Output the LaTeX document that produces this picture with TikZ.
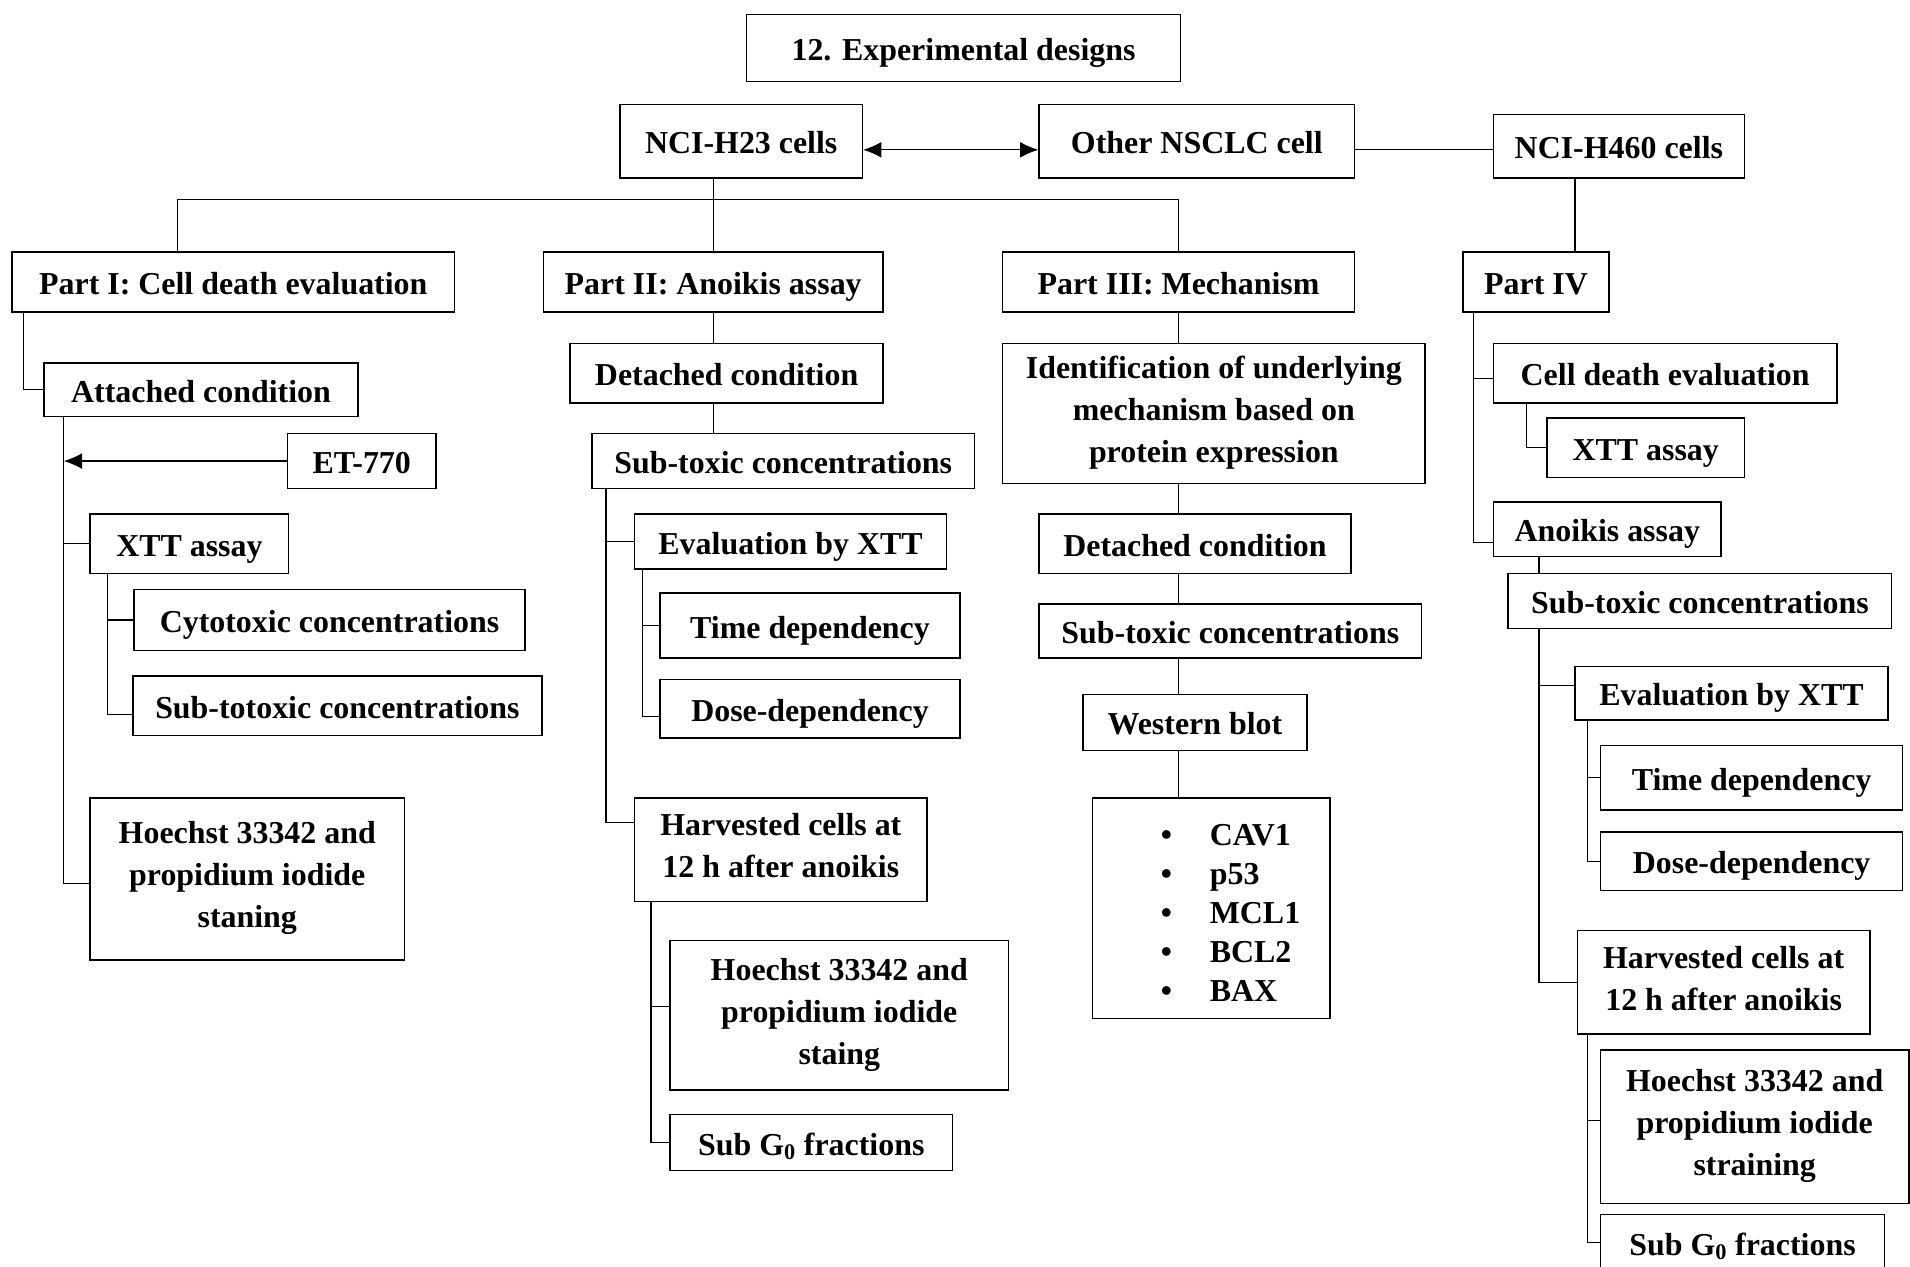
\documentclass[tikz,border=0pt]{standalone}
\usepackage{fontspec}
\setmainfont{Liberation Serif}
\usetikzlibrary{arrows.meta}

\newcommand{\boxstrut}{\rule[-0.2\baselineskip]{0pt}{\baselineskip}}
\tikzset{
  box/.style={draw, line width=1.2pt, inner sep=2pt, align=center,
    font=\bfseries\fontsize{26.2}{34.5}\selectfont, execute at begin node=\boxstrut},
  link/.style={line width=1pt},
}

\begin{document}
\begin{tikzpicture}[x=1pt,y=-1pt]
	\path[use as bounding box, fill=white] (0,0) rectangle (1568,1040);
	% top row
	\node[box, minimum width=356pt, minimum height=55pt] (title) at (791,39.5) {12. Experimental designs};
	\node[box, minimum width=199pt, minimum height=60pt] (h23) at (608.5,116) {NCI-H23 cells};
	\node[box, minimum width=259pt, minimum height=60pt] (other) at (982.5,116) {Other NSCLC cell};
	\node[box, minimum width=206pt, minimum height=52pt] (h460) at (1329,120) {NCI-H460 cells};
	% parts
	\node[box, minimum width=363pt, minimum height=49pt] (p1) at (191.5,231.5) {Part I: Cell death evaluation};
	\node[box, minimum width=279pt, minimum height=49pt] (p2) at (585.5,231.5) {Part II: Anoikis assay};
	\node[box, minimum width=289pt, minimum height=49pt] (p3) at (967.5,231.5) {Part III: Mechanism};
	\node[box, minimum width=120pt, minimum height=49pt] (p4) at (1261,231.5) {Part IV};
	% part I
	\node[box, minimum width=258pt, minimum height=44pt] (att1) at (165,320) {Attached condition};
	\node[box, minimum width=122pt, minimum height=45pt] (et) at (297,378.5) {ET-770};
	\node[box, minimum width=163pt, minimum height=49pt] (xtt1) at (155.5,446.5) {XTT assay};
	\node[box, minimum width=321pt, minimum height=50pt] (cyto1) at (270.5,509) {Cytotoxic concentrations};
	\node[box, minimum width=336pt, minimum height=49pt] (subt1) at (277,579.5) {Sub-totoxic concentrations};
	\node[box, minimum width=258pt, minimum height=133pt] (hoe1) at (203,721.5) {Hoechst 33342 and\\propidium iodide\\staning};
	% part II
	\node[box, minimum width=257pt, minimum height=49pt] (det2) at (596.5,306.5) {Detached condition};
	\node[box, minimum width=314pt, minimum height=45pt] (sub2) at (643,378.5) {Sub-toxic concentrations};
	\node[box, minimum width=256pt, minimum height=45pt] (eval2) at (649,444.5) {Evaluation by XTT};
	\node[box, minimum width=246pt, minimum height=53pt] (time2) at (665,513.5) {Time dependency};
	\node[box, minimum width=246pt, minimum height=48pt] (dose2) at (665,582) {Dose-dependency};
	\node[box, minimum width=240pt, minimum height=85pt] (harv2) at (641,697.5) {Harvested cells at\\12 h after anoikis};
	\node[box, minimum width=278pt, minimum height=123pt] (hoe2) at (689,833.5) {Hoechst 33342 and\\propidium iodide\\staing};
	\node[box, minimum width=232pt, minimum height=46pt] (subg2) at (666,938) {Sub G\textsubscript{0} fractions};
	% part III
	\node[box, minimum width=347pt, minimum height=115pt] (ident) at (996.5,339.5) {Identification of underlying\\mechanism based on\\protein expression};
	\node[box, minimum width=256pt, minimum height=49pt] (det3) at (981,446.5) {Detached condition};
	\node[box, minimum width=314pt, minimum height=44pt] (sub3) at (1010,518) {Sub-toxic concentrations};
	\node[box, minimum width=184pt, minimum height=46pt] (wb) at (981,593) {Western blot};
	\node[box, text width=195pt, inner xsep=0pt, minimum height=181pt, align=left,
		font=\bfseries\fontsize{26.2}{32}\selectfont, execute at begin node=\strut] (prot) at (994.5,745.5)
		{\hspace*{56pt}\textbullet\hspace{31pt}CAV1\\
		 \hspace*{56pt}\textbullet\hspace{31pt}p53\\
		 \hspace*{56pt}\textbullet\hspace{31pt}MCL1\\
		 \hspace*{56pt}\textbullet\hspace{31pt}BCL2\\
		 \hspace*{56pt}\textbullet\hspace{31pt}BAX};
	% part IV
	\node[box, minimum width=282pt, minimum height=49pt] (cde4) at (1367,306.5) {Cell death evaluation};
	\node[box, minimum width=162pt, minimum height=49pt] (xtt4) at (1351,367.5) {XTT assay};
	\node[box, minimum width=187pt, minimum height=45pt] (ano4) at (1319.5,434.5) {Anoikis assay};
	\node[box, minimum width=315pt, minimum height=45pt] (sub4) at (1395.5,493.5) {Sub-toxic concentrations};
	\node[box, minimum width=257pt, minimum height=44pt] (eval4) at (1421.5,569) {Evaluation by XTT};
	\node[box, minimum width=248pt, minimum height=53pt] (time4) at (1438,638.5) {Time dependency};
	\node[box, minimum width=248pt, minimum height=48pt] (dose4) at (1438,707) {Dose-dependency};
	\node[box, minimum width=240pt, minimum height=85pt] (harv4) at (1415,806.5) {Harvested cells at\\12 h after anoikis};
	\node[box, minimum width=253pt, minimum height=126pt] (hoe4) at (1440.5,925) {Hoechst 33342 and\\propidium iodide\\straining};
	\node[box, minimum width=233pt, minimum height=46pt] (subg4) at (1430.5,1020) {Sub G\textsubscript{0} fractions};

	% top connectors
	\draw[link, {Latex[length=15pt,width=13pt]}-{Latex[length=15pt,width=13pt]}] ([yshift=-7pt]h23.east) -- ([yshift=-7pt]other.west);
	\draw[link] ([yshift=-7pt]other.east) -- ([yshift=-7pt]other.east -| h460.west);
	\coordinate (bus) at (0,164);
	\draw[link] ([xshift=-46pt]p1.north) |- (bus -| p3.north) -- (p3.north);
	\draw[link] (h23.south -| p2.north) -- (p2.north);
	\coordinate (t8) at ([xshift=-36pt]h460.south);
	\draw[link] (t8) -- (t8 |- p4.north);

	% part I
	\draw[link] ([xshift=10pt]p1.south west) |- (att1.west);
	\coordinate (t1) at ([xshift=17pt]att1.south west);
	\draw[link] (t1) |- ([yshift=-3.5pt]hoe1.west);
	\draw[link] (t1) |- (xtt1.west);
	\draw[link, -{Latex[length=15pt,width=13pt]}] (et.west) -- (et.west -| t1);
	\coordinate (t2) at ([xshift=15pt]xtt1.south west);
	\draw[link] (t2) |- (cyto1.west);
	\draw[link] (t2) |- ([yshift=-7pt]subt1.west);

	% part II
	\draw[link] (p2.south) -- (p2.south |- det2.north);
	\draw[link] (det2.south -| p2.south) -- (p2.south |- sub2.north);
	\coordinate (t3) at ([xshift=12pt]sub2.south west);
	\draw[link] (t3) |- (eval2.west);
	\draw[link] (t3) |- ([yshift=22pt]harv2.west);
	\coordinate (t4) at ([xshift=7pt]eval2.south west);
	\draw[link] (t4) |- (time2.west);
	\draw[link] (t4) |- ([yshift=-6pt]dose2.west);
	\coordinate (t5) at ([xshift=14pt]harv2.south west);
	\draw[link] (t5) |- ([yshift=7pt]hoe2.west);
	\draw[link] (t5) |- (subg2.west);

	% part III
	\foreach \a/\b in {p3/ident, ident/det3, det3/sub3, sub3/wb, wb/prot}
		\draw[link] (\a.south -| p3.south) -- (\b.north -| p3.south);

	% part IV
	\coordinate (t6) at ([xshift=9pt]p4.south west);
	\draw[link] (t6) |- ([yshift=-4pt]cde4.west);
	\draw[link] (t6) |- ([yshift=-11pt]ano4.west);
	\coordinate (t7) at ([xshift=28pt]cde4.south west);
	\draw[link] (t7) |- (xtt4.west);
	\coordinate (t9) at ([xshift=26pt]sub4.south west);
	\draw[link] (t9 |- ano4.south) -- (t9 |- sub4.north);
	\draw[link] (t9) |- ([yshift=6pt]eval4.west);
	\draw[link] (t9) |- (harv4.west);
	\coordinate (t10) at ([xshift=11pt]eval4.south west);
	\draw[link] (t10) |- (time4.west);
	\draw[link] (t10) |- (dose4.west);
	\coordinate (t11) at ([xshift=9pt]harv4.south west);
	\draw[link] (t11) |- ([yshift=5pt]hoe4.west);
	\draw[link] (t11) |- (subg4.west);
\end{tikzpicture}
\end{document}
